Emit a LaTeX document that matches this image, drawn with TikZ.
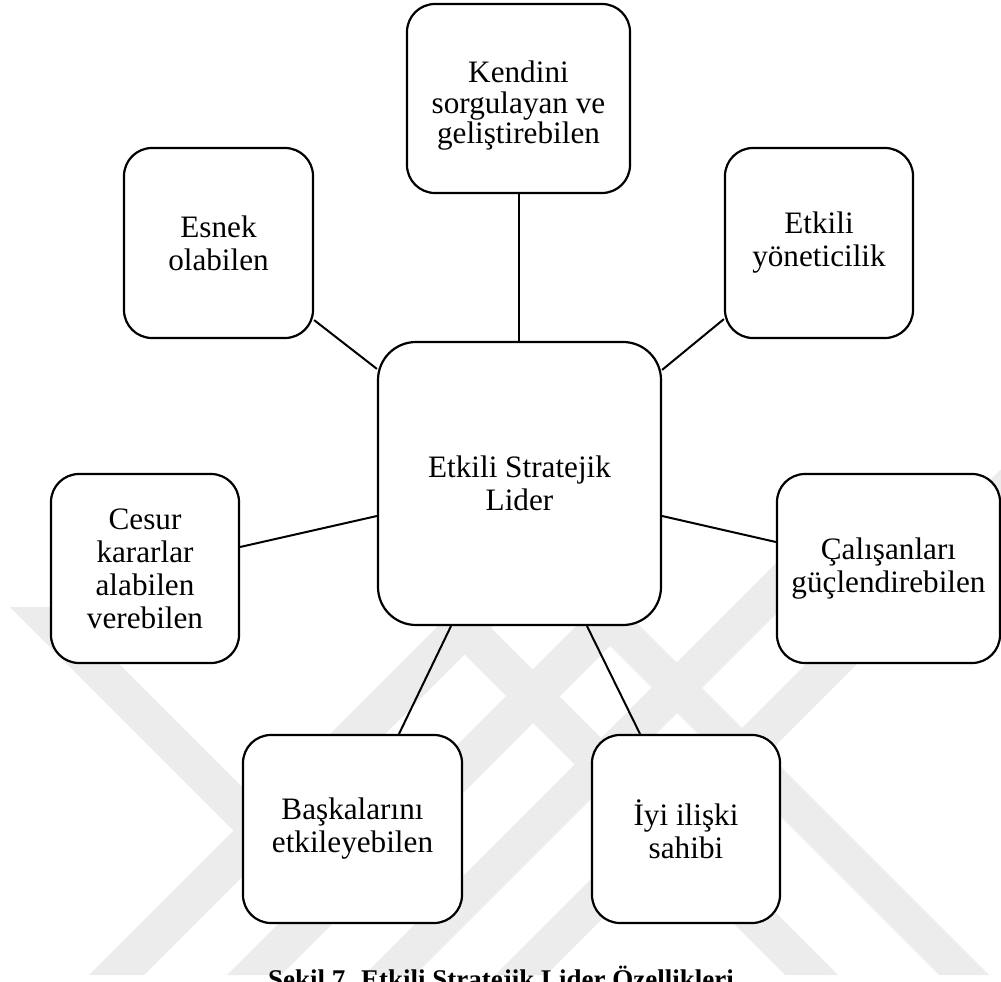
\documentclass[tikz,border=0pt]{standalone}
\usepackage{fontspec}
\setmainfont{Liberation Serif}
\usetikzlibrary{calc}

\definecolor{wmark}{RGB}{236,236,236}

\tikzset{
  trait/.style={draw, line width=1.1pt, rounded corners=14pt, fill=white,
    align=center, inner sep=0pt,
    font=\fontsize{15.6pt}{16.5pt}\selectfont},
  link/.style={line width=1pt},
  band/.style={fill=wmark, draw=none}
}

\begin{document}
\begin{tikzpicture}[x=0.5pt, y=0.5pt]
  \useasboundingbox (0,0) rectangle (1001,981);
  \clip (0,0) rectangle (1001,981);

  % faint background stripes
  \foreach \xb/\w/\h in {89/55/375, 227/54/375, 364/51/455, 495/51/505}
    \fill[band] (\xb,6) -- ++(\w,0) -- ++(\h,\h) -- ++(-\w,0) -- cycle;
  \foreach \xb/\w/\h in {785/53/365, 939/50/365}
    \fill[band] (\xb,6) -- ++(\w,0) -- ++(-\h,\h) -- ++(-\w,0) -- cycle;
  \fill[band] (10,374) -- (62,374) -- ++(273,-273) -- ++(-52,0) -- cycle;

  % central concept
  \node[trait, rounded corners=19pt, minimum width=141.5pt, minimum height=141.5pt]
    (cen) at (519.5,497.5) {Etkili Stratejik\\Lider};

  % surrounding traits
  \node[trait, minimum width=111.5pt, minimum height=94.5pt,
        font=\fontsize{15.6pt}{15pt}\selectfont]
    (kend) at (518.5,882.5)
    {\raisebox{-4.25pt}[\height][\depth]{\begin{tabular}{@{}c@{}}Kendini\\sorgulayan ve\\geliştirebilen\end{tabular}}};
  \node[trait, minimum width=94.5pt, minimum height=95pt]
    (esnek) at (218.5,738) {Esnek\\olabilen};
  \node[trait, minimum width=94pt, minimum height=95pt]
    (yon) at (819,738) {Etkili\\yöneticilik};
  \node[trait, minimum width=94pt, minimum height=94.5pt]
    (cesur) at (145,412.5) {Cesur\\kararlar\\alabilen\\verebilen};
  \node[trait, minimum width=111.5pt, minimum height=94.5pt]
    (calis) at (888.5,412.5) {Çalışanları\\güçlendirebilen};
  \node[trait, minimum width=109.5pt, minimum height=94pt]
    (bask) at (352.5,152) {Başkalarını\\etkileyebilen};
  \node[trait, minimum width=94pt, minimum height=94pt]
    (iyi) at (686,152) {İyi ilişki\\sahibi};

  % connectors
  \draw[link] (kend.south) -- (kend.south |- cen.north);
  \draw[link] ($(esnek.south east)+(0,19)$) -- ($(cen.north west)+(0,-28)$);
  \draw[link] ($(yon.south west)+(0,20)$) -- ($(cen.north east)+(0,-29)$);
  \draw[link] ($(cesur.east)+(0,21.5)$) -- ($(cen.west)+(0,-32.5)$);
  \draw[link] ($(calis.west)+(0,26.5)$) -- ($(cen.east)+(0,-32.5)$);
  \draw[link] ($(bask.north)+(46.5,0)$) -- ($(cen.south)+(-68.5,0)$);
  \draw[link] ($(iyi.north)+(-46,0)$) -- ($(cen.south)+(67.5,0)$);

  % figure caption
  \node[anchor=base, inner sep=0pt, font=\fontsize{13.5pt}{15pt}\selectfont\bfseries]
    (cap) at (501,-7) {Şekil 7. Etkili Stratejik Lider Özellikleri};
\end{tikzpicture}
\end{document}
